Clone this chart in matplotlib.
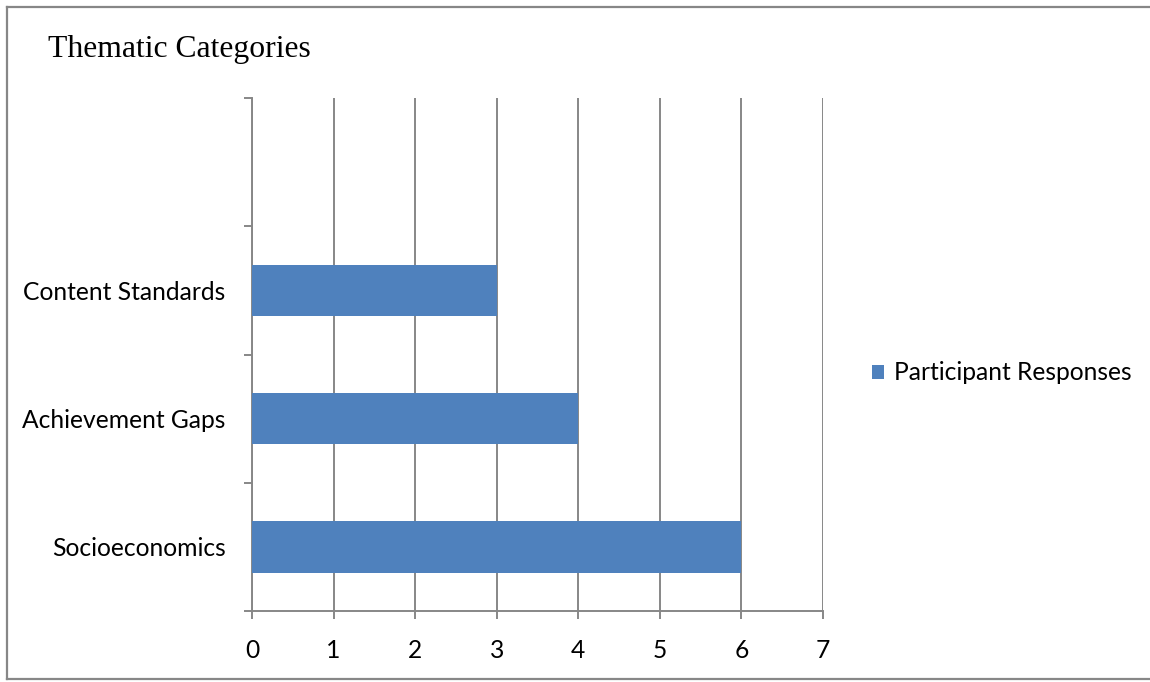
import matplotlib.pyplot as plt
from matplotlib.lines import Line2D
from matplotlib.ticker import FixedLocator

# Thematic categories and number of participant responses
categories = ["Socioeconomics", "Achievement Gaps", "Content Standards", ""]
responses = [6, 4, 3, 0]
x_ticks = [0, 1, 2, 3, 4, 5, 6, 7]

bar_color = "#4F81BD"
axis_gray = "#878787"
label_font = "Lato"
label_size = 17.7

fig = plt.figure(figsize=(11.5, 6.82), dpi=100)
ax = fig.add_axes([252 / 1150, 1 - 611 / 682, 571 / 1150, 513 / 682])

pos = list(range(len(categories)))
ax.barh(pos, responses, height=0.4, color=bar_color, zorder=3,
        label="Participant Responses")

ax.set_xlim(0, 7)
ax.set_ylim(-0.5, len(categories) - 0.5)
ax.set_xticks(x_ticks)
ax.set_xticklabels([str(v) for v in x_ticks], fontsize=label_size, family=label_font)
ax.set_yticks(pos)
ax.set_yticklabels(categories, fontsize=label_size, family=label_font)
ax.yaxis.set_minor_locator(FixedLocator([p - 0.5 for p in pos] + [pos[-1] + 0.5]))

ax.grid(axis="x", color=axis_gray, linewidth=1.4, zorder=0)
ax.tick_params(axis="x", length=6, width=1.4, color=axis_gray, pad=14)
ax.tick_params(axis="y", which="major", length=0, pad=19)
ax.tick_params(axis="y", which="minor", length=6, width=1.4, color=axis_gray)

for side in ["top", "right"]:
    ax.spines[side].set_visible(False)
for side in ["left", "bottom"]:
    ax.spines[side].set_color(axis_gray)
    ax.spines[side].set_linewidth(1.4)

ax.legend(loc="center left", bbox_to_anchor=(1.086, 0.464), frameon=False,
          borderaxespad=0, borderpad=0,
          handlelength=0.5, handleheight=0.5, handletextpad=0.4,
          prop={"family": label_font, "size": label_size})

fig.text(48 / 1150, 1 - 49 / 682, "Thematic Categories", family="Liberation Serif",
         fontsize=22.8, va="center", ha="left")

# chart frame (open on the right)
frame = dict(color=axis_gray, linewidth=1.6, transform=fig.transFigure)
fig.add_artist(Line2D([7 / 1150, 1.0], [1 - 7 / 682, 1 - 7 / 682], **frame))
fig.add_artist(Line2D([7 / 1150, 1.0], [1 - 679 / 682, 1 - 679 / 682], **frame))
fig.add_artist(Line2D([7 / 1150, 7 / 1150], [1 - 7 / 682, 1 - 679 / 682], **frame))

fig.savefig("out.png", dpi=100)
